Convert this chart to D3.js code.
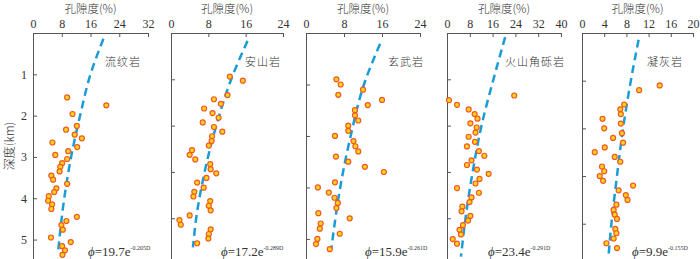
<!DOCTYPE html>
<html>
<head>
<meta charset="utf-8">
<script src="https://cdn.jsdelivr.net/npm/d3@7"></script>
<style>
    body { margin: 0; background: #fff; }
    text { font-family: "Liberation Serif", "Noto Sans CJK SC", serif; fill: #333; }
    .cjk { font-family: "Noto Sans CJK SC", sans-serif; font-weight: 300; }
</style>
</head>
<body>
<div id="chart"></div>
<script>
// rock types, one panel each
var rocks = ["流纹岩", "安山岩", "玄武岩", "火山角砾岩", "凝灰岩"];
var xMaxes = [32, 24, 24, 40, 20];
var xSteps = [8, 8, 8, 8, 4];
var depthMaxes = [5.47, 4.88, 4.39, 4.88, 4.74];
var coefA = ["19.7", "17.2", "15.9", "23.4", "9.9"];
var coefB = ["-0.205D", "-0.289D", "-0.261D", "-0.291D", "-0.155D"];

// porosity (%) / depth (km)
var rhyolitePor = [9.5, 20.4, 11.0, 12.2, 9.2, 11.6, 13.6, 5.4, 12.3, 9.8, 6.2, 9.5, 8.1, 7.6, 7.4, 5.1, 5.6, 9.5, 6.5, 5.9, 4.4, 4.2, 5.3, 5.1, 12.2, 9.3, 7.9, 8.3, 5.0, 10.5, 8.1, 8.9, 8.2];
var rhyoliteDep = [1.56, 1.75, 1.96, 2.25, 2.34, 2.46, 2.55, 2.65, 2.76, 2.86, 2.95, 3.05, 3.15, 3.24, 3.35, 3.45, 3.55, 3.65, 3.76, 3.85, 3.95, 4.06, 4.15, 4.26, 4.45, 4.55, 4.65, 4.76, 4.95, 5.06, 5.16, 5.26, 5.37];
var andesitePor = [12.6, 15.4, 12.1, 9.2, 10.7, 7.1, 8.9, 10.2, 6.8, 9.2, 11.0, 8.8, 8.7, 8.1, 4.5, 4.0, 5.2, 8.4, 8.5, 9.7, 7.6, 5.6, 7.0, 5.0, 4.8, 8.4, 8.1, 8.5, 4.0, 1.8, 2.1, 8.5, 8.1, 8.0, 5.6];
var andesiteDep = [0.94, 1.03, 1.34, 1.43, 1.53, 1.63, 1.73, 1.83, 1.93, 2.03, 2.13, 2.23, 2.33, 2.43, 2.53, 2.63, 2.73, 2.83, 2.94, 3.03, 3.13, 3.23, 3.34, 3.43, 3.53, 3.63, 3.73, 3.83, 3.94, 4.04, 4.14, 4.24, 4.34, 4.44, 4.54];
var basaltPor = [6.4, 7.3, 12.0, 6.8, 16.0, 13.0, 10.3, 10.3, 11.0, 8.9, 8.9, 6.1, 10.0, 10.4, 11.0, 6.3, 8.9, 12.4, 16.4, 6.1, 2.5, 4.8, 6.0, 6.7, 6.4, 2.6, 9.2, 3.1, 2.9, 7.1, 2.4, 2.1, 5.0];
var basaltDep = [0.9, 1.0, 1.1, 1.2, 1.3, 1.4, 1.5, 1.6, 1.7, 1.8, 1.9, 2.0, 2.1, 2.2, 2.3, 2.4, 2.5, 2.6, 2.7, 2.9, 3.0, 3.1, 3.2, 3.3, 3.4, 3.5, 3.6, 3.7, 3.8, 3.9, 4.0, 4.1, 4.2];
var brecciaPor = [0.7, 23.6, 3.5, 7.6, 9.7, 10.7, 8.2, 10.4, 10.0, 7.6, 9.8, 7.0, 11.2, 13.1, 8.6, 7.0, 10.5, 14.6, 11.4, 10.0, 3.5, 11.2, 8.6, 7.9, 5.4, 5.1, 8.2, 7.4, 5.6, 4.4, 4.9, 2.0, 3.5];
var brecciaDep = [1.45, 1.35, 1.55, 1.65, 1.75, 1.85, 1.95, 2.04, 2.15, 2.24, 2.35, 2.45, 2.55, 2.65, 2.75, 2.85, 2.95, 3.04, 3.15, 3.25, 3.35, 3.45, 3.55, 3.65, 3.75, 3.85, 3.95, 4.05, 4.15, 4.25, 4.35, 4.45, 4.55];
var tuffPor = [14.0, 10.3, 7.6, 6.9, 7.0, 3.7, 7.0, 4.0, 7.2, 5.6, 7.4, 4.1, 2.3, 5.9, 6.9, 3.6, 4.0, 3.2, 3.8, 9.2, 6.6, 7.9, 8.2, 6.2, 5.7, 5.9, 6.3, 6.0, 6.2, 5.7, 4.4, 6.3];
var tuffDep = [1.1, 1.2, 1.5, 1.6, 1.7, 1.8, 1.9, 2.0, 2.1, 2.2, 2.3, 2.4, 2.5, 2.6, 2.7, 2.8, 2.9, 3.0, 3.1, 3.2, 3.3, 3.4, 3.5, 3.6, 3.71, 3.81, 3.9, 4.11, 4.2, 4.31, 4.41, 4.51];

// fitted curves
var fitDep = [[0.14, 1, 2, 3, 4, 5.28], [0.17, 1, 2, 3, 4, 4.63], [0.21, 1, 2, 3, 4, 4.21], [0.09, 1, 2, 3, 4, 4.83], [0.14, 1, 2, 3, 4, 4.65]];
var fitPor = [[19.6, 16.0, 13.1, 10.6, 8.7, 7.0], [16.4, 12.9, 9.7, 7.2, 5.4, 4.7], [15.6, 12.2, 9.4, 7.2, 5.6, 5.3], [20.4, 16.3, 12.1, 9.0, 6.5, 4.9], [10.2, 8.8, 7.4, 6.3, 5.3, 4.8]];

var porosity = [rhyolitePor, andesitePor, basaltPor, brecciaPor, tuffPor];
var depth = [rhyoliteDep, andesiteDep, basaltDep, brecciaDep, tuffDep];

// layout
var lefts = [33, 171, 306, 447, 582];
var widths = [115, 112, 114, 114, 111];
var plotTop = 33, plotBottom = 259;
var nameX = [141, 281, 424, 565, 683];
var formX = [88, 221, 365, 488, 632];

var svg = d3.select("#chart").append("svg")
    .attr("width", 700)
    .attr("height", 259);

// y axis title
svg.append("text")
    .attr("class", "cjk")
    .attr("transform", "translate(14,146) rotate(-90)")
    .attr("text-anchor", "middle")
    .style("font-size", "12px")
    .text("深度(km)");

rocks.forEach(function (rock, i) {
    var pw = widths[i];
    var g = svg.append("g")
        .attr("transform", "translate(" + lefts[i] + ",0)");

    var x = d3.scaleLinear()
        .domain([0, xMaxes[i]])
        .range([0, pw]);

    var y = d3.scaleLinear()
        .domain([0, depthMaxes[i]])
        .range([plotTop, plotBottom]);

    //top axis
    var xAxis = d3.axisTop(x)
        .tickValues(d3.range(0, xMaxes[i] + 0.1, xSteps[i]))
        .tickSizeInner(-4)
        .tickSizeOuter(0)
        .tickPadding(5);
    var xg = g.append("g")
        .attr("transform", "translate(0," + plotTop + ")")
        .call(xAxis);
    xg.selectAll("text").style("font-size", "12px").attr("fill", "#333");

    //left axis
    var yAxis = d3.axisLeft(y)
        .tickValues(d3.range(1, Math.floor(depthMaxes[i]) + 1))
        .tickFormat(d3.format("d"))
        .tickSizeInner(-4)
        .tickSizeOuter(0)
        .tickPadding(6);
    if (i > 0) yAxis.tickFormat("");
    var yg = g.append("g").call(yAxis);
    yg.selectAll("text").style("font-size", "12px").attr("fill", "#333");

    g.selectAll(".domain, .tick line").attr("stroke", "#555");

    // axis title
    g.append("text")
        .attr("class", "cjk")
        .attr("x", pw / 2)
        .attr("y", 13)
        .attr("text-anchor", "middle")
        .style("font-size", "11.5px")
        .text("孔隙度(%)");

    // rock name
    g.append("text")
        .attr("class", "cjk")
        .attr("x", nameX[i] - lefts[i])
        .attr("y", 66)
        .attr("text-anchor", "end")
        .style("font-size", "11px")
        .style("letter-spacing", "1px")
        .text(rock);

    // fitted line
    var line = d3.line()
        .x(function (d) { return x(d[1]); })
        .y(function (d) { return y(d[0]); })
        .curve(d3.curveMonotoneY);
    g.append("path")
        .datum(d3.zip(fitDep[i], fitPor[i]))
        .attr("d", line)
        .attr("fill", "none")
        .attr("stroke", "#1a9cd8")
        .attr("stroke-width", 2.5)
        .attr("stroke-dasharray", "8,5");

    // samples
    g.selectAll("circle")
        .data(d3.zip(porosity[i], depth[i]))
        .enter()
        .append("circle")
        .attr("cx", function (d) { return x(d[0]); })
        .attr("cy", function (d) { return y(d[1]); })
        .attr("r", 2.5)
        .attr("fill", "#ffd21a")
        .attr("stroke", "#ee5a24")
        .attr("stroke-width", 1.2);

    // formula
    var f = g.append("text")
        .attr("x", formX[i] - lefts[i])
        .attr("y", 256)
        .style("font-size", "13px");
    f.append("tspan").style("font-style", "italic").text("\u03d5");
    f.append("tspan").text("=" + coefA[i] + "e");
    f.append("tspan")
        .attr("dy", -6)
        .style("font-size", "6px")
        .text(coefB[i]);
});
</script>
</body>
</html>
